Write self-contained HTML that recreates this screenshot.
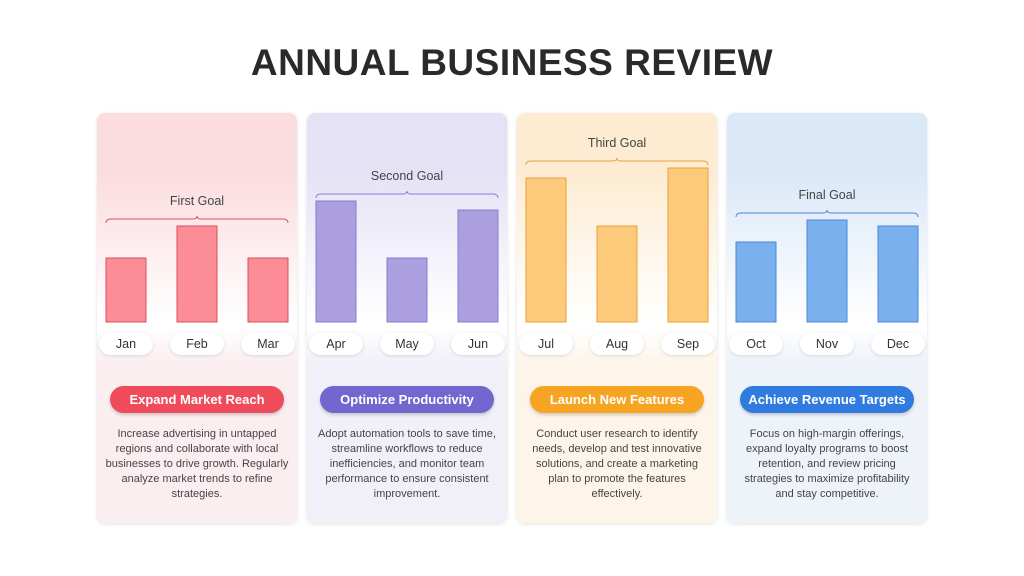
<!DOCTYPE html>
<html><head><meta charset="utf-8"><style>
body{margin:0;width:1024px;height:576px;background:#fff;font-family:"Liberation Sans",sans-serif;position:relative;overflow:hidden}
h1{position:absolute;top:42px;left:0;width:1024px;text-align:center;margin:0;font-size:37px;font-weight:bold;color:#2a2a2a;letter-spacing:0.5px}
.panel{position:absolute;top:113px;width:200px;height:410px;border-radius:8px;box-shadow:0 1px 4px rgba(0,0,0,0.12)}
.btn{position:absolute;top:273px;left:13px;width:174px;height:27px;border-radius:14px;color:#fff;font-weight:bold;font-size:13px;text-align:center;line-height:27px;box-shadow:0 2px 3px rgba(0,0,0,0.18)}
.desc{position:absolute;top:314px;left:8px;width:184px;text-align:center;font-size:11px;line-height:15px;color:#444}
svg{position:absolute;left:0;top:0}
</style></head><body>
<h1>ANNUAL BUSINESS REVIEW</h1>
<div id="panels"></div>
<svg id="chart" width="1024" height="576"></svg>
<script>
const months=["Jan","Feb","Mar","Apr","May","Jun","Jul","Aug","Sep","Oct","Nov","Dec"];
const values=[64,96,64,121,64,112,144,96,154,80,102,96];
const goals=["First Goal","Second Goal","Third Goal","Final Goal"];
const titles=["Expand Market Reach","Optimize Productivity","Launch New Features","Achieve Revenue Targets"];
const descs=["Increase advertising in untapped regions and collaborate with local businesses to drive growth. Regularly analyze market trends to refine strategies.","Adopt automation tools to save time, streamline workflows to reduce inefficiencies, and monitor team performance to ensure consistent improvement.","Conduct user research to identify needs, develop and test innovative solutions, and create a marketing plan to promote the features effectively.","Focus on high-margin offerings, expand loyalty programs to boost retention, and review pricing strategies to maximize profitability and stay competitive."];
const fills=["#fc8d96","#ab9fe0","#fdc97a","#7ab0ee"];
const strokes=["#d9505e","#8a7cd0","#e6a23c","#4a88d8"];
const btnCols=["#f04b5b","#7466cf","#f7a422","#2f7be0"];
const tints=["#fbdcdf","#e6e2f6","#fdecd2","#dbe8f8"];
const bottoms=["#fbeef0","#f1f0f8","#fdf5ea","#eef3fa"];
const baseY=322, scale=1;
function yPos(v){return baseY-v*scale;}
function xPos(i){const g=Math.floor(i/3),k=i%3;return 97+g*210+29+k*71;}
const P=document.getElementById('panels');
const S=document.getElementById('chart');
const ns="http://www.w3.org/2000/svg";
function mk(t,a){const e=document.createElementNS(ns,t);for(const k in a)e.setAttribute(k,a[k]);S.appendChild(e);return e;}
for(let g=0;g<4;g++){
  const p=document.createElement('div');p.className='panel';
  
  
  p.style.left=(97+g*210)+'px';
  p.style.background=`linear-gradient(${tints[g]} 0px,${tints[g]} 60px,#fff 210px,#fff 215px,${bottoms[g]} 250px,${bottoms[g]} 410px)`;
  const b=document.createElement('div');b.className='btn';b.textContent=titles[g];b.style.background=btnCols[g];
  
  
  p.appendChild(b);
  const d=document.createElement('div');d.className='desc';d.textContent=descs[g];
  
  
  p.appendChild(d);
  P.appendChild(p);
}
for(let g=0;g<4;g++){
  let mx=0;for(let k=0;k<3;k++)mx=Math.max(mx,values[g*3+k]);
  const by=yPos(mx)-7, x0=xPos(g*3)-20, x1=xPos(g*3+2)+20, cx=(x0+x1)/2;
  const br=mk('path',{d:`M${x0} ${by+4} Q${x0} ${by} ${x0+5} ${by} L${cx-4} ${by} Q${cx} ${by} ${cx} ${by-3} Q${cx} ${by} ${cx+4} ${by} L${x1-5} ${by} Q${x1} ${by} ${x1} ${by+4}`,fill:'none',stroke:strokes[g],'stroke-width':1});
  
  
  const t=mk('text',{x:cx,y:by-14,'text-anchor':'middle','font-size':12.5,fill:'#444','font-family':'Liberation Sans, sans-serif'});t.textContent=goals[g];
  
  
}
for(let i=0;i<12;i++){
  const g=Math.floor(i/3),x=xPos(i);
  const r=mk('rect',{x:x-20,y:yPos(values[i]),width:40,height:values[i]*scale,fill:fills[g],stroke:strokes[g],'stroke-width':1});
  
  
  const pill=mk('rect',{x:x-27,y:333,width:54,height:22,rx:11,fill:'#fff',style:'filter:drop-shadow(0 1px 1.5px rgba(0,0,0,0.12))'});
  
  
  const t=mk('text',{x:x,y:348,'text-anchor':'middle','font-size':12.5,fill:'#333','font-family':'Liberation Sans, sans-serif'});t.textContent=months[i];
  
  
}
</script>
</body></html>
